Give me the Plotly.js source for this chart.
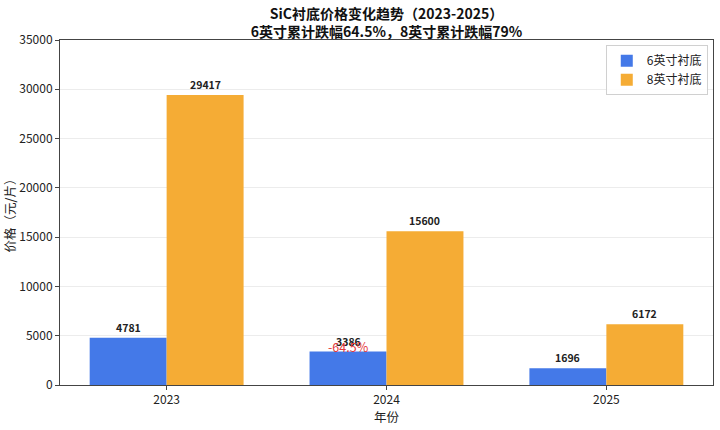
<!DOCTYPE html>
<html>
<head>
<meta charset="utf-8">
<script src="https://cdn.plot.ly/plotly-3.0.1.min.js"></script>
<style>
  body { margin: 0; background: white; }
  #chart { width: 720px; height: 430px; }
</style>
</head>
<body>
<div id="chart"></div>
<script>

// data
var years = ['2023', '2024', '2025']
var price6 = [4781, 3386, 1696]
var price8 = [29417, 15600, 6172]
var seriesNames = ['6英寸衬底', '8英寸衬底']
var dropNote = '-64.5%'
var dropYear = '2024'

var FONT = '"Noto Sans CJK SC", "DejaVu Sans", sans-serif'
var BLUE = '#4479E8'
var ORANGE = '#F5AC35'


var data = [
    {type: 'bar', name: seriesNames[0], x: years, y: price6,
     marker: {color: BLUE}, hoverinfo: 'x+y'},
    {type: 'bar', name: seriesNames[1], x: years, y: price8,
     marker: {color: ORANGE}, hoverinfo: 'x+y'},
]


// value labels above each bar
var annotations = []
for (var i=0;i<years.length;i++) {
    annotations.push({x: i - 0.175, y: price6[i], text: '<b>' + price6[i] + '</b>',
        xref: 'x', yref: 'y', showarrow: false, yanchor: 'bottom', yshift: 1,
        font: {size: 10.5, color: '#222'}})
    annotations.push({x: i + 0.175, y: price8[i], text: '<b>' + price8[i] + '</b>',
        xref: 'x', yref: 'y', showarrow: false, yanchor: 'bottom', yshift: 1,
        font: {size: 10.5, color: '#222'}})
}

// red drop note sits on the 6-inch 2024 bar
var k = years.indexOf(dropYear)
annotations.push({x: k - 0.175, y: price6[k], text: dropNote,
    xref: 'x', yref: 'y', showarrow: false, yanchor: 'middle', yshift: 5,
    font: {size: 12.5, color: '#E5383B'}})


const layout = {
    width: 720,
    height: 430,
    font: {family: FONT, size: 12, color: '#222'},
    paper_bgcolor: 'white',
    plot_bgcolor: 'white',
    margin: {l: 60, r: 7, t: 40, b: 45},
    barmode: 'group',
    bargap: 0.3,
    bargroupgap: 0,
    showlegend: true,
    title: {
        text: '<b>SiC衬底价格变化趋势（2023-2025）<br>6英寸累计跌幅64.5%，8英寸累计跌幅79%</b>',
        font: {size: 14, color: '#111'},
        x: 0.5, xanchor: 'center', xref: 'paper',
        y: 1, yanchor: 'bottom', yref: 'paper',
        pad: {b: 21},
    },
    xaxis: {
        type: 'category',
        range: [-0.485, 2.485],
        showline: true, mirror: true, linecolor: '#444', linewidth: 1,
        ticks: 'outside', ticklen: 4, tickcolor: '#444',
        showgrid: false,
        tickfont: {size: 12},
        title: {text: '年份', font: {size: 12.5}, standoff: 5},
    },
    yaxis: {
        range: [0, 35000],
        dtick: 5000,
        tickformat: 'd',
        showline: true, mirror: true, linecolor: '#444', linewidth: 1,
        ticks: 'outside', ticklen: 4, tickcolor: '#444',
        gridcolor: '#ececec',
        zeroline: false,
        tickfont: {size: 12},
        title: {text: '价格（元/片）', font: {size: 12.5}, standoff: 4},
    },
    legend: {
        x: 0.992, y: 0.985, xanchor: 'right', yanchor: 'top',
        bgcolor: 'rgba(255,255,255,0.9)',
        bordercolor: '#d0d0d0', borderwidth: 1,
        font: {size: 12},
        tracegroupgap: 0,
    },
    annotations: annotations,
}

Plotly.newPlot('chart', data, layout, {displayModeBar: false, staticPlot: true})
</script>
</body>
</html>
